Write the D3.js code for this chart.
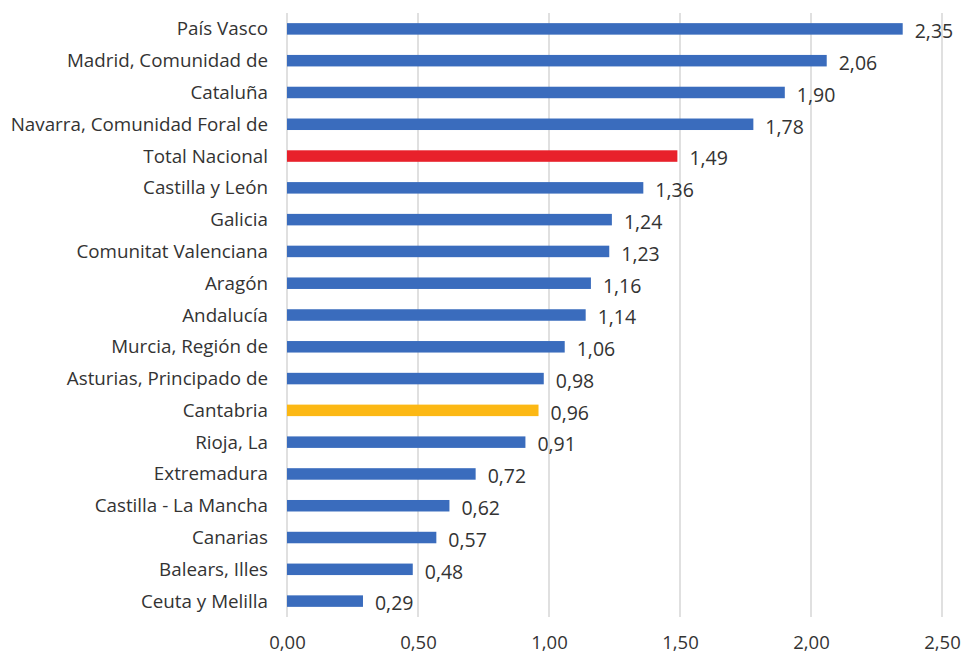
<!DOCTYPE html>
<html>
<head>
<meta charset="utf-8">
<script src="https://cdn.jsdelivr.net/npm/d3@7/dist/d3.min.js"></script>
<style>
  html, body { margin: 0; padding: 0; background: #fff; }
  svg text { font-family: "Open Sans", "Liberation Sans", sans-serif; fill: #333; }
</style>
</head>
<body>
<svg id="chart" width="962" height="655"></svg>
<script>
const regions = [
  "País Vasco", "Madrid, Comunidad de", "Cataluña", "Navarra, Comunidad Foral de",
  "Total Nacional", "Castilla y León", "Galicia", "Comunitat Valenciana", "Aragón",
  "Andalucía", "Murcia, Región de", "Asturias, Principado de", "Cantabria", "Rioja, La",
  "Extremadura", "Castilla - La Mancha", "Canarias", "Balears, Illes", "Ceuta y Melilla"
];
const values = [2.35, 2.06, 1.90, 1.78, 1.49, 1.36, 1.24, 1.23, 1.16, 1.14, 1.06, 0.98, 0.96, 0.91, 0.72, 0.62, 0.57, 0.48, 0.29];
const xTicks = [0, 0.5, 1.0, 1.5, 2.0, 2.5];
const highlight = { "Total Nacional": "#e8212b", "Cantabria": "#fcb814" };
const baseColor = "#3a6cbd";

const svg = d3.select("#chart");
const plotLeft = 287, plotRight = 942, plotTop = 13, plotBottom = 617;

const x = d3.scaleLinear().domain([0, 2.5]).range([plotLeft, plotRight]);
const y = d3.scalePoint().domain(regions).range([plotTop, plotBottom]).padding(0.5);
const barH = 11.5;
const fmt = v => d3.format(".2f")(v).replace(".", ",");

// vertical gridlines
svg.append("g")
  .selectAll("line")
  .data(xTicks)
  .join("line")
  .attr("x1", d => x(d)).attr("x2", d => x(d))
  .attr("y1", plotTop).attr("y2", plotBottom)
  .attr("stroke", "#cfcfcf").attr("stroke-width", 1.3);

// x axis labels
const xAxis = d3.axisBottom(x).tickValues(xTicks).tickFormat(fmt).tickSize(0).tickPadding(0);
const gx = svg.append("g").attr("transform", `translate(0,${plotBottom + 19})`).call(xAxis);
gx.select(".domain").remove();
gx.selectAll("text").attr("font-size", 18.5).attr("dy", "0.71em")
  .style("font-family", "'Open Sans', sans-serif").attr("fill", "#333");

// y category labels
const yAxis = d3.axisLeft(y).tickSize(0).tickPadding(19);
const gy = svg.append("g").attr("transform", `translate(${plotLeft},0)`).call(yAxis);
gy.select(".domain").remove();
gy.selectAll("text").attr("font-size", 18.8)
  .style("font-family", "'Open Sans', sans-serif").attr("fill", "#333");

// bars
svg.append("g")
  .selectAll("rect")
  .data(regions)
  .join("rect")
  .attr("x", x(0))
  .attr("y", d => y(d) - barH / 2)
  .attr("width", (d, i) => x(values[i]) - x(0))
  .attr("height", barH)
  .attr("fill", d => highlight[d] || baseColor);

// value labels
svg.append("g")
  .selectAll("text")
  .data(regions)
  .join("text")
  .attr("x", (d, i) => x(values[i]) + 12)
  .attr("y", d => y(d) + 2.5)
  .attr("dy", "0.35em")
  .attr("font-size", 19.5)
  .text((d, i) => fmt(values[i]));
</script>
</body>
</html>
